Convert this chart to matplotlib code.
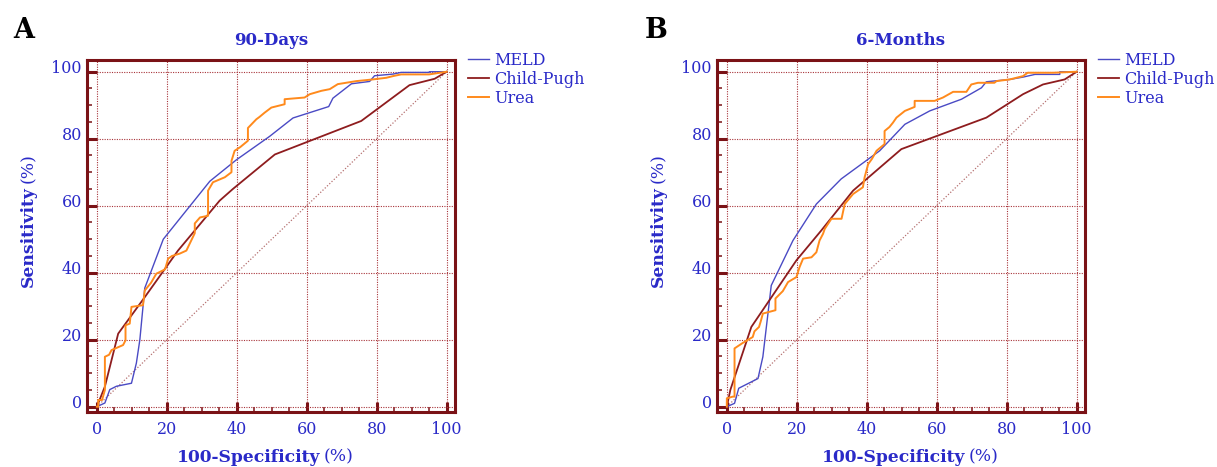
import matplotlib
matplotlib.use('Agg')
import matplotlib.pyplot as plt
from matplotlib.ticker import MultipleLocator
from matplotlib.transforms import ScaledTranslation

# ---- data ----
panels = ['90-Days', '6-Months']
letters = ['A', 'B']
series = ['MELD', 'Child-Pugh', 'Urea']

# 90-Days
meld_90_x = [0, 2.3, 3.7, 5.6, 9.9, 11.3, 12.3, 13.7, 19.0, 32.3, 39.9, 49.4, 56.1, 66.3, 67.5, 72.8,
             78.0, 79.4, 84.7, 87.0, 95.0, 95.1, 100]
meld_90_y = [0, 1.1, 5.1, 6.1, 7.0, 13.0, 20.0, 35.4, 50.0, 67.3, 73.7, 80.7, 86.2, 89.6, 92.1, 96.4,
             97.1, 98.8, 99.3, 99.8, 99.8, 100, 100]
child_90_x = [0, 2.3, 6.1, 13.7, 23.2, 28.0, 35.1, 38.9, 50.9, 75.6, 89.4, 96.6, 100]
child_90_y = [0, 6.0, 21.8, 32.7, 46.6, 52.6, 61.5, 65.0, 75.3, 85.3, 96.0, 97.9, 100]
urea_90_x = [0, 0.4, 0.4, 1.5, 2.3, 2.3, 3.5, 4.2, 7.5, 8.2, 8.2, 9.4, 9.9, 13.2, 13.7, 15.5, 17.0,
             19.5, 20.4, 21.5, 23.7, 25.6, 28.0, 28.0, 29.5, 31.8, 31.8, 33.2, 36.6, 38.5, 38.5, 39.4,
             41.0, 43.2, 43.2, 45.6, 46.5, 48.0, 49.9, 53.7, 53.7, 59.4, 60.9, 64.2, 66.6, 68.9, 74.2,
             78.9, 82.8, 84.7, 87.0, 95.0, 100]
urea_90_y = [0, 0, 2.0, 2.0, 5.0, 14.9, 15.5, 16.9, 18.4, 19.8, 24.3, 24.8, 29.8, 30.3, 34.7, 37.0, 39.7,
             41.0, 44.2, 45.0, 45.7, 46.6, 51.8, 54.7, 56.5, 57.0, 64.5, 67.0, 68.5, 70.0, 73.4, 76.4,
             77.5, 79.4, 83.2, 85.8, 86.5, 87.8, 89.3, 90.3, 91.8, 92.3, 93.3, 94.3, 94.8, 96.3, 97.2,
             97.7, 98.2, 98.7, 99.2, 99.2, 100]

# 6-Months
meld_6m_x = [0, 2.2, 3.4, 8.9, 10.3, 12.7, 18.9, 25.6, 32.7, 43.7, 50.9, 58.0, 67.1, 72.8, 74.2, 80.9,
             84.7, 88.1, 95.2, 95.2, 100]
meld_6m_y = [0, 1.0, 5.5, 8.4, 14.9, 36.2, 49.6, 60.5, 68.0, 76.4, 84.3, 88.3, 91.8, 95.2, 97.0, 97.7,
             98.4, 99.2, 99.2, 100, 100]
child_6m_x = [0, 1.0, 7.0, 19.9, 27.0, 36.1, 49.9, 74.2, 84.7, 90.4, 96.6, 100]
child_6m_y = [0, 5.0, 23.8, 43.7, 52.6, 64.5, 76.9, 86.3, 93.3, 96.2, 97.7, 100]
urea_6m_x = [0, 0, 1.7, 2.2, 2.2, 4.5, 7.4, 7.9, 9.2, 9.7, 10.3, 13.9, 13.9, 16.0, 17.5, 19.9, 20.8,
             21.8, 24.2, 25.6, 26.5, 27.5, 28.0, 29.9, 32.8, 33.7, 36.1, 38.9, 39.4, 40.4, 41.5, 42.8,
             45.1, 45.1, 46.5, 47.5, 48.5, 50.9, 53.7, 53.7, 59.4, 61.8, 64.7, 68.5, 69.9, 71.8, 76.5,
             77.1, 80.9, 84.7, 86.0, 93.3, 100]
urea_6m_y = [0, 2.5, 3.0, 3.0, 17.4, 19.0, 20.8, 22.5, 23.8, 25.5, 27.8, 28.8, 32.3, 34.5, 37.2, 38.7,
             41.7, 44.2, 44.6, 46.1, 49.6, 51.6, 53.1, 56.1, 56.1, 60.5, 63.5, 65.5, 68.5, 72.4, 74.0,
             76.4, 78.4, 82.3, 83.5, 84.8, 86.3, 88.3, 89.5, 91.3, 91.3, 92.3, 94.0, 94.0, 96.2, 96.7,
             96.7, 97.2, 97.7, 98.7, 99.7, 99.7, 100]

chance = [0, 100]

curves = [
    [(meld_90_x, meld_90_y), (child_90_x, child_90_y), (urea_90_x, urea_90_y)],
    [(meld_6m_x, meld_6m_y), (child_6m_x, child_6m_y), (urea_6m_x, urea_6m_y)],
]

# ---- styling ----
plt.rcParams['font.family'] = ['DejaVu Serif']
blue_txt = '#2a2ac8'
frame_red = '#7a1216'
grid_red = '#a8343a'
line_colors = ['#4a4ac4', '#8e1c1e', '#ff8a1c']
line_widths = [1.0, 1.3, 1.4]

fig = plt.figure(figsize=(12.17, 4.67), dpi=100)
lefts = [86.7 / 1217, 716.7 / 1217]
# x-label placements differ slightly between the two panels in the source
xlab_split = [0.6335, 0.674]
letter_x = [13 / 1217, 645 / 1217]

for i in range(2):
    ax = fig.add_axes([lefts[i], 0.1184, 0.3026, 0.7531])
    ax.set_xlim(-2.9, 102.4)
    ax.set_ylim(-1.5, 103.5)

    ax.plot(chance, chance, color='#b57070', ls=(0, (1, 1.5)), lw=0.9, zorder=2)
    for j, (xs, ys) in enumerate(curves[i][j] for j in range(3)):
        ax.plot(xs, ys, color=line_colors[j], lw=line_widths[j], label=series[j], zorder=3)

    ax.xaxis.set_major_locator(MultipleLocator(20))
    ax.yaxis.set_major_locator(MultipleLocator(20))
    ax.xaxis.set_minor_locator(MultipleLocator(5))
    ax.yaxis.set_minor_locator(MultipleLocator(5))
    ax.grid(which='major', color=grid_red, ls=(0, (1, 1.2)), lw=0.8, zorder=1)
    ax.tick_params(which='major', direction='in', length=7.2, width=2.2, color=frame_red,
                   labelsize=11.5, labelcolor=blue_txt)
    ax.tick_params(which='minor', direction='in', length=3.6, width=1.1, color=frame_red)
    ax.tick_params(axis='x', which='major', pad=7)
    ax.tick_params(axis='y', which='major', pad=3.5)
    for lab in ax.get_yticklabels():
        lab.set_transform(lab.get_transform() + ScaledTranslation(0, 5 / 100, fig.dpi_scale_trans))
    for sp in ax.spines.values():
        sp.set_color(frame_red)
        sp.set_linewidth(2.2)

    ax.set_title(panels[i], fontsize=12, fontweight='bold', color=blue_txt, pad=10.8)

    # axis labels: bold word followed by regular "(%)"
    ax.text(xlab_split[i], -0.142, '100-Specificity', transform=ax.transAxes, ha='right',
            va='baseline', fontsize=12.3, fontweight='bold', color=blue_txt)
    ax.text(xlab_split[i] + 0.011, -0.142, '(%)', transform=ax.transAxes, ha='left',
            va='baseline', fontsize=12.3, color=blue_txt)
    ax.text(-0.147, 0.642, 'Sensitivity', transform=ax.transAxes, rotation=90,
            rotation_mode='anchor', ha='right', va='baseline', fontsize=12.3,
            fontweight='bold', color=blue_txt)
    ax.text(-0.147, 0.650, '(%)', transform=ax.transAxes, rotation=90,
            rotation_mode='anchor', ha='left', va='baseline', fontsize=12.3, color=blue_txt)

    leg = ax.legend(loc='upper left', bbox_to_anchor=(1.035, 1.023), frameon=False,
                    borderaxespad=0, borderpad=0, handlelength=1.35, handletextpad=0.3,
                    labelspacing=0.12, fontsize=11.5)
    for t in leg.get_texts():
        t.set_color(blue_txt)

    fig.text(letter_x[i], 1 - 38 / 467, letters[i], fontsize=19.5, fontweight='bold',
             color='black', va='baseline', ha='left')

fig.savefig('out.png', dpi=100)
